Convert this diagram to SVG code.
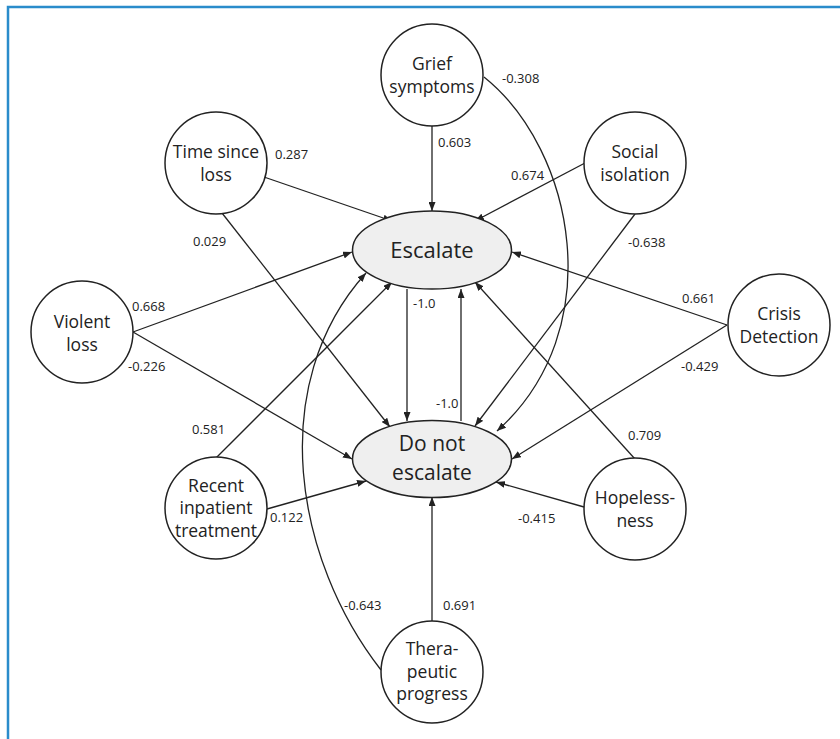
<svg xmlns="http://www.w3.org/2000/svg" width="840" height="739" viewBox="0 0 840 739">
<style>
.n{fill:#fff;stroke:#222;stroke-width:1.5}
.o{fill:#efefef;stroke:#222;stroke-width:1.5}
.t{font-family:"Open Sans","Liberation Sans",sans-serif;font-size:17.5px;fill:#222;text-anchor:middle}
.b{font-family:"Open Sans","Liberation Sans",sans-serif;font-size:22px;fill:#222;text-anchor:middle}
.b2{font-family:"Open Sans","Liberation Sans",sans-serif;font-size:21px;fill:#222;text-anchor:middle}
.w{font-family:"Open Sans","Liberation Sans",sans-serif;font-size:13px;fill:#222}
.e{fill:none;stroke:#222;stroke-width:1.3;marker-end:url(#ah)}
</style>
<defs>
<marker id="ah" markerUnits="userSpaceOnUse" markerWidth="9" markerHeight="7" refX="9" refY="3.5" orient="auto">
<path d="M0,0 L9,3.5 L0,7 z" fill="#222"/>
</marker>
</defs>
<rect x="0" y="0" width="840" height="739" fill="#fff"/>
<rect x="8" y="7" width="900" height="900" fill="none" stroke="#2a8ccb" stroke-width="2.5"/>
<g id="connectors">
<path class="e" d="M432,126 L432,211"/>
<path class="e" d="M484,77 C575,150 610,330 497,431"/>
<path class="e" d="M264,177 L392,221"/>
<path class="e" d="M222,213 L390,427"/>
<path class="e" d="M585,163 L475,221"/>
<path class="e" d="M635,214 L475,426"/>
<path class="e" d="M133,332 L352,252"/>
<path class="e" d="M133,332 L352,459"/>
<path class="e" d="M727,325 L512,252"/>
<path class="e" d="M727,325 L512,459"/>
<path class="e" d="M216,458 L392,282"/>
<path class="e" d="M381,670 C295,560 265,385 366,273"/>
<path class="e" d="M267,509 L366,481"/>
<path class="e" d="M635,459 L475,282"/>
<path class="e" d="M584,507 L496,482"/>
<path class="e" d="M432,622 L432,497"/>
<path class="e" d="M407,289 L407,421"/>
<path class="e" d="M461,421 L461,289"/>
</g>
<g id="labels">
<text class="w" x="275" y="159">0.287</text>
<text class="w" x="193" y="246">0.029</text>
<text class="w" x="438" y="147">0.603</text>
<text class="w" x="502" y="83">-0.308</text>
<text class="w" x="511" y="180">0.674</text>
<text class="w" x="628" y="247">-0.638</text>
<text class="w" x="132" y="311">0.668</text>
<text class="w" x="128" y="371">-0.226</text>
<text class="w" x="682" y="303">0.661</text>
<text class="w" x="681" y="371">-0.429</text>
<text class="w" x="413" y="308">-1.0</text>
<text class="w" x="436" y="408">-1.0</text>
<text class="w" x="192" y="434">0.581</text>
<text class="w" x="270" y="522">0.122</text>
<text class="w" x="628" y="440">0.709</text>
<text class="w" x="518" y="523">-0.415</text>
<text class="w" x="344" y="610">-0.643</text>
<text class="w" x="443" y="610">0.691</text>
</g>
<g id="grief"><circle class="n" cx="432" cy="75" r="51"/><text class="t" x="432" y="70">Grief</text><text class="t" x="432" y="93">symptoms</text></g>
<g id="time"><circle class="n" cx="216" cy="163" r="51"/><text class="t" x="216" y="158">Time since</text><text class="t" x="216" y="181">loss</text></g>
<g id="social"><circle class="n" cx="635" cy="163" r="51"/><text class="t" x="635" y="158">Social</text><text class="t" x="635" y="181">isolation</text></g>
<g id="violent"><circle class="n" cx="82" cy="332" r="51"/><text class="t" x="82" y="328">Violent</text><text class="t" x="82" y="351">loss</text></g>
<g id="crisis"><circle class="n" cx="779" cy="325" r="51"/><text class="t" x="779" y="320">Crisis</text><text class="t" x="779" y="343">Detection</text></g>
<g id="recent"><circle class="n" cx="216" cy="508" r="51"/><text class="t" x="216" y="492">Recent</text><text class="t" x="216" y="514">inpatient</text><text class="t" x="216" y="537">treatment</text></g>
<g id="hopeless"><circle class="n" cx="635" cy="509" r="51"/><text class="t" x="635" y="504">Hopeless-</text><text class="t" x="635" y="527">ness</text></g>
<g id="thera"><circle class="n" cx="432" cy="672" r="51"/><text class="t" x="432" y="655">Thera-</text><text class="t" x="432" y="678">peutic</text><text class="t" x="432" y="700">progress</text></g>
<g id="escalate"><ellipse class="o" cx="432" cy="250" rx="79.5" ry="39"/><text class="b" x="432" y="258">Escalate</text></g>
<g id="donot"><ellipse class="o" cx="432" cy="459" rx="79.5" ry="38.5"/><text class="b2" x="432" y="451">Do not</text><text class="b2" x="432" y="480">escalate</text></g>
</svg>
